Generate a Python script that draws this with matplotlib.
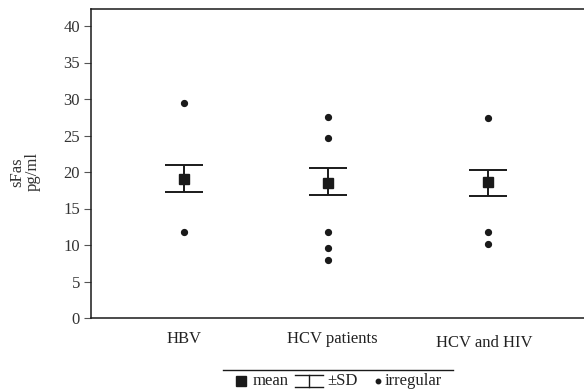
import matplotlib
matplotlib.use("Agg")
import matplotlib.pyplot as plt
from matplotlib.lines import Line2D

plt.rcParams['font.family'] = ['Liberation Serif', 'DejaVu Serif']

# data
groups = ['HBV', 'HCV patients', 'HCV and HIV']
group_x = [93, 237, 397]
means = [19.1, 18.5, 18.6]
sd_low = [17.2, 16.85, 16.75]
sd_high = [21.0, 20.5, 20.3]
irregular = [
    [29.5, 11.8],
    [27.6, 24.7, 11.8, 9.6, 7.9],
    [27.4, 11.8, 10.2],
]
yticks = [0, 5, 10, 15, 20, 25, 30, 35, 40]

W, H = 584, 392
fig = plt.figure(figsize=(W / 100, H / 100), dpi=100)
ax = fig.add_axes([91 / W, (H - 318) / H, 1 - 91 / W, (318 - 9) / H])

c = '#1a1a1a'
for i in range(len(groups)):
    x = group_x[i]
    ax.errorbar([x], [means[i]],
                yerr=[[means[i] - sd_low[i]], [sd_high[i] - means[i]]],
                fmt='none', ecolor=c, elinewidth=1.4, capsize=13.7, capthick=1.4)
    ax.plot([x], [means[i]], marker='s', color=c, markersize=7, linestyle='none')
    ax.plot([x] * len(irregular[i]), irregular[i], marker='o', color=c,
            markersize=4.2, linestyle='none')

ax.set_xlim(0, W - 91)
ax.set_ylim(0, (318 - 9) / 7.3)
ax.set_yticks(yticks)
ax.set_xticks([])
ax.spines['right'].set_visible(False)
for s in ['left', 'top', 'bottom']:
    ax.spines[s].set_linewidth(1.1)
    ax.spines[s].set_color(c)
ax.tick_params(axis='y', length=5, width=0.8, color='#555555', labelsize=12,
               labelcolor='#333333', pad=3)

# category labels
label_dx = [0, 4, -4]
label_y = [339, 339, 343]
for i, g in enumerate(groups):
    fig.text((91 + group_x[i] + label_dx[i]) / W, 1 - label_y[i] / H, g,
             ha='center', va='center', fontsize=12, color='#222222')

fig.text(25 / W, 1 - 172 / H, 'sFas\npg/ml', rotation=90, ha='center',
         va='center', fontsize=12, color='#333333', linespacing=1.0)

# legend
fig.add_artist(Line2D([223 / W, 453 / W], [1 - 370 / H] * 2, color=c, lw=1.0))
ly = 1 - 381 / H
fig.add_artist(Line2D([241 / W], [ly], marker='s', color=c, markersize=6.5))
fig.text(253 / W, ly, 'mean', ha='left', va='center', fontsize=12, color='#222222')
fig.add_artist(Line2D([295 / W, 323 / W], [1 - 375 / H] * 2, color=c, lw=1.0))
fig.add_artist(Line2D([295 / W, 323 / W], [1 - 387 / H] * 2, color=c, lw=1.0))
fig.add_artist(Line2D([309 / W, 309 / W], [1 - 375 / H, 1 - 387 / H], color=c, lw=1.0))
fig.text(327 / W, ly, '\u00b1SD', ha='left', va='center', fontsize=12, color='#222222')
fig.add_artist(Line2D([378 / W], [ly], marker='o', color=c, markersize=3.2))
fig.text(385 / W, ly, 'irregular', ha='left', va='center', fontsize=12, color='#222222')

fig.savefig('out.png', dpi=100)
